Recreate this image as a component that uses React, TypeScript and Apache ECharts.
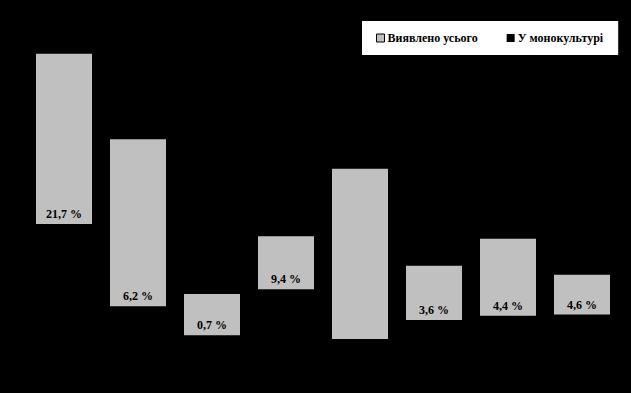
import React, { useEffect, useRef } from "react";
import * as echarts from "echarts";

const categories = ["1", "2", "3", "4", "5", "6", "7", "8"];
const totalFound = [53.8, 37.7, 8.5, 19.4, 32.1, 13.8, 18.9, 12.1];
const monoculture = [21.7, 6.2, 0.7, 9.4, 0, 3.6, 4.4, 4.6];
const seriesNames = ["Виявлено усього", "У монокультурі"];

export default function App() {
  const ref = useRef<HTMLDivElement>(null);
  useEffect(() => {
    document.body.style.margin = "0";
    document.body.style.background = "#000";
    const chart = echarts.init(ref.current!, null, { renderer: "svg" });
    const font = "Liberation Serif";
    chart.setOption({
      animation: false,
      backgroundColor: "#000",
      grid: { left: 27, right: 12, top: 21, bottom: 54 },
      legend: {
        left: 362,
        top: 21,
        padding: [11, 15, 11, 14],
        backgroundColor: "#fff",
        itemWidth: 8,
        itemHeight: 8,
        itemGap: 29,
        textStyle: { fontFamily: font, fontWeight: "bold", fontSize: 12, color: "#000", padding: [0, 0, 0, -2] },
        data: [
          { name: seriesNames[0], icon: "rect", itemStyle: { borderColor: "#000", borderWidth: 1 } },
          { name: seriesNames[1], icon: "rect" },
        ],
      },
      xAxis: {
        type: "category",
        data: categories,
        axisLine: { lineStyle: { color: "#000" } },
        axisTick: { show: false },
        axisLabel: { show: false },
      },
      yAxis: {
        type: "value",
        min: 0,
        max: 60,
        interval: 10,
        axisLine: { show: false },
        splitLine: { show: false },
        axisLabel: { show: false },
      },
      series: [
        {
          name: seriesNames[0],
          type: "bar",
          data: totalFound,
          barWidth: 56,
          barGap: "-100%",
          itemStyle: { color: "#C0C0C0" },
        },
        {
          name: seriesNames[1],
          type: "bar",
          data: monoculture,
          barWidth: 56,
          barGap: "-100%",
          itemStyle: { color: "#000" },
          label: {
            show: true,
            position: "top",
            distance: 4,
            color: "#000",
            fontFamily: font,
            fontWeight: "bold",
            fontSize: 12,
            formatter: (p: any) =>
              p.value ? p.value.toFixed(1).replace(".", ",") + " %" : "",
          },
        },
      ],
    });
    return () => chart.dispose();
  }, []);
  return (
    <div
      ref={ref}
      style={{ position: "fixed", left: 0, top: 0, width: 631, height: 393, background: "#000" }}
    />
  );
}
